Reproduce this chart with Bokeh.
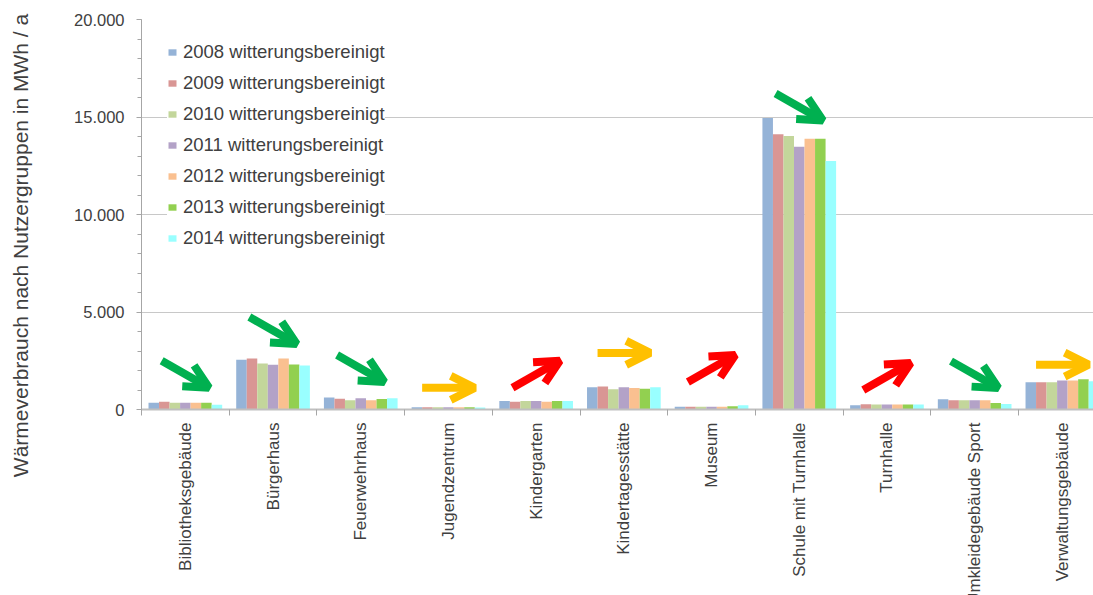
from math import pi

from bokeh.core.properties import value
from bokeh.embed import file_html
from bokeh.layouts import column, row
from bokeh.models import (Arrow, ColumnDataSource, FixedTicker, OpenHead,
                          Range1d, SingleIntervalTicker)
from bokeh.plotting import figure
from bokeh.resources import INLINE

# Heat consumption (weather-adjusted) per building group, MWh per year
categories = [
    "Bibliotheksgebäude", "Bürgerhaus", "Feuerwehrhaus", "Jugendzentrum",
    "Kindergarten", "Kindertagesstätte", "Museum", "Schule mit Turnhalle",
    "Turnhalle", "Umkleidegebäude Sport", "Verwaltungsgebäude",
]
years = ["2008", "2009", "2010", "2011", "2012", "2013", "2014"]

values_2008 = [350, 2550, 620, 120, 430, 1140, 140, 14950, 220, 530, 1400]
values_2009 = [400, 2620, 555, 120, 400, 1185, 140, 14120, 270, 480, 1400]
values_2010 = [350, 2360, 470, 110, 430, 1040, 140, 14030, 260, 480, 1400]
values_2011 = [350, 2300, 580, 110, 430, 1135, 140, 13470, 260, 480, 1485]
values_2012 = [350, 2620, 470, 110, 400, 1100, 140, 13880, 260, 480, 1485]
values_2013 = [350, 2310, 540, 110, 430, 1060, 170, 13880, 260, 330, 1555]
values_2014 = [250, 2260, 580, 100, 430, 1135, 220, 12750, 260, 280, 1450]
series = [values_2008, values_2009, values_2010, values_2011,
          values_2012, values_2013, values_2014]

# Trend per group and the height (MWh) at which its arrow is drawn
trends = ["down", "down", "down", "flat", "up", "flat", "up", "down", "up", "down", "flat"]
arrow_level = [1810, 4050, 2100, 1110, 1810, 2900, 2100, 15510, 1690, 1790, 2300]

y_ticks = [0, 5000, 10000, 15000, 20000]
y_title = "Wärmeverbrauch nach Nutzergruppen in MWh / a"

bar_colors = ["#95B3D7", "#D99694", "#C3D69B", "#B3A2C7", "#FAC090", "#92D050", "#99FFFF"]
trend_colors = {"down": "#00B050", "flat": "#FFC000", "up": "#FF0000"}

FONT = "Liberation Sans"
TEXT = "#404040"

# ---- main chart -------------------------------------------------------------
p = figure(
    width=1053, height=420, output_backend="svg", toolbar_location=None,
    x_range=Range1d(0, 10.855), y_range=Range1d(0, 20000),
    min_border_left=101, min_border_right=0, min_border_top=19, min_border_bottom=11,
)
p.outline_line_color = None

# grouped bars: seven years side by side inside each unit-wide category slot
bar_w = 0.12
for i, (year, vals) in enumerate(zip(years, series)):
    xs = [k + 0.14 + bar_w * i for k in range(len(categories))]
    p.vbar(x=xs, top=vals, width=bar_w, bottom=0,
           fill_color=bar_colors[i], line_color=None,
           legend_label=f"{year} witterungsbereinigt")

# x axis: only small ticks at the slot boundaries
centers = [k + 0.5 for k in range(len(categories))]
p.xaxis.ticker = FixedTicker(ticks=[], minor_ticks=list(range(len(categories) + 1)))
p.xaxis.major_tick_out = 0
p.xaxis.major_label_standoff = 0
p.xaxis.minor_tick_in = 0
p.xaxis.minor_tick_out = 6
p.xaxis.minor_tick_line_color = "#A6A6A6"
p.xaxis.axis_line_color = "#BFBFBF"
p.xaxis.axis_line_width = 2
p.xgrid.visible = False

# y axis with German thousands separator
p.yaxis.ticker = SingleIntervalTicker(interval=5000, num_minor_ticks=5)
p.yaxis.major_label_overrides = {t: f"{t:,}".replace(",", ".") for t in y_ticks}
p.yaxis.major_tick_in = 0
p.yaxis.major_tick_out = 5
p.yaxis.minor_tick_in = 0
p.yaxis.minor_tick_out = 4
p.yaxis.major_tick_line_color = "#A6A6A6"
p.yaxis.minor_tick_line_color = "#A6A6A6"
p.yaxis.axis_line_color = "#A6A6A6"
p.yaxis.major_label_standoff = 12
p.yaxis.major_label_text_font = FONT
p.yaxis.major_label_text_font_size = "16.5px"
p.yaxis.major_label_text_color = TEXT
p.ygrid.ticker = SingleIntervalTicker(interval=5000)
p.ygrid.grid_line_color = "#C8C8C8"

# trend arrows above each group
half_dx = {"down": 0.27, "up": 0.27, "flat": 0.30}
half_dy = {"down": -690, "up": 690, "flat": 0}
for trend, color in trend_colors.items():
    idx = [k for k, t in enumerate(trends) if t == trend]
    src = ColumnDataSource(dict(
        x0=[centers[k] - half_dx[trend] for k in idx],
        x1=[centers[k] + half_dx[trend] for k in idx],
        y0=[arrow_level[k] - half_dy[trend] for k in idx],
        y1=[arrow_level[k] + half_dy[trend] for k in idx],
    ))
    p.add_layout(Arrow(
        x_start="x0", y_start="y0", x_end="x1", y_end="y1", source=src,
        line_color=color, line_width=8,
        end=OpenHead(size=24, line_width=8, line_color=color),
    ))

legend = p.legend[0]
legend.location = (26, 160)
legend.padding = 10
legend.spacing = 9
legend.label_height = 21
legend.glyph_width = 10
legend.glyph_height = 8
legend.label_standoff = 6
legend.border_line_color = None
legend.background_fill_color = "white"
legend.background_fill_alpha = 1
legend.label_text_font = FONT
legend.label_text_font_size = "18.5px"
legend.label_text_color = TEXT

# ---- category names below the chart ----------------------------------------
names = figure(
    width=1053, height=175, output_backend="svg", toolbar_location=None,
    x_range=p.x_range, y_range=Range1d(0, 175),
    x_axis_type=None, y_axis_type=None,
    min_border_left=101, min_border_right=0, min_border_top=0, min_border_bottom=0,
)
names.outline_line_color = None
names.text(
    x=centers, y=[173] * len(categories), text=categories,
    angle=pi / 2, text_align="right", text_baseline="middle",
    text_font=value(FONT), text_font_size="17px", text_color=TEXT,
)

# ---- vertical axis title ----------------------------------------------------
side = figure(
    width=40, height=595, output_backend="svg", toolbar_location=None,
    x_range=Range1d(0, 40), y_range=Range1d(0, 595),
    x_axis_type=None, y_axis_type=None,
    min_border_left=0, min_border_right=0, min_border_top=0, min_border_bottom=0,
)
side.outline_line_color = None
side.text(
    x=[20], y=[350], text=[y_title], angle=pi / 2,
    text_align="center", text_baseline="middle",
    text_font=value(FONT), text_font_size="21px", text_color=TEXT,
)

page = row(side, column(p, names))
open("out.html", "w").write(file_html(page, INLINE))
